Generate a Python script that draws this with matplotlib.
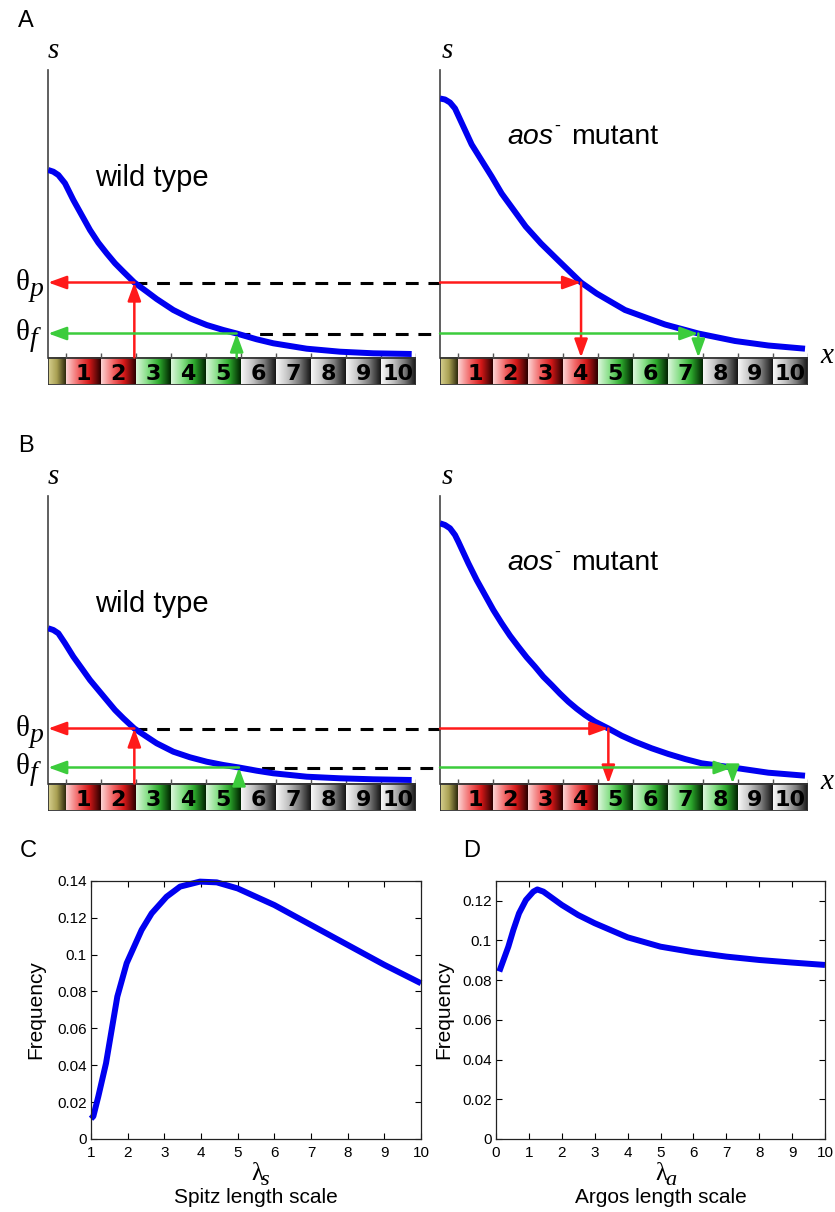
import numpy as np
import matplotlib.pyplot as plt
from matplotlib.colors import LinearSegmentedColormap
from matplotlib.patches import Rectangle

plt.rcParams["font.family"] = ["Liberation Sans", "DejaVu Sans"]

SERIF = ["Liberation Serif", "DejaVu Serif"]
W, H = 835, 1212

# --- panels A/B: x in cell units (cell k spans k-1..k), s arbitrary units ---
a_wt_x = [-0.5, -0.353, -0.21, -0.02, 0.218, 0.456, 0.694, 0.932, 1.17, 1.409, 1.647, 1.961,
          2.313, 2.599, 3.075, 3.551, 4.028, 4.504, 4.885, 5.456, 5.932, 6.885, 7.837, 8.789, 9.885]
a_wt_s = [1.875, 1.858, 1.825, 1.742, 1.575, 1.425, 1.275, 1.148, 1.042, 0.942, 0.858, 0.75,
          0.66, 0.585, 0.475, 0.392, 0.325, 0.275, 0.24, 0.182, 0.142, 0.088, 0.058, 0.042, 0.035]
a_mut_x = [-0.5, -0.357, -0.214, -0.071, 0.167, 0.405, 0.69, 0.976, 1.262, 1.595, 1.948, 2.386,
           2.881, 3.53, 3.976, 4.786, 5.929, 6.881, 7.929, 8.881, 9.929]
a_mut_s = [2.59, 2.58, 2.55, 2.49, 2.31, 2.13, 1.97, 1.81, 1.64, 1.48, 1.31, 1.14,
           0.97, 0.75, 0.64, 0.475, 0.33, 0.24, 0.165, 0.12, 0.088]
b_wt_x = [-0.5, -0.353, -0.21, -0.02, 0.218, 0.456, 0.694, 0.932, 1.17, 1.409, 1.647, 1.961,
          2.313, 2.599, 3.075, 3.551, 4.028, 4.504, 4.952, 5.456, 5.932, 6.885, 7.837, 8.789, 9.885]
b_wt_s = [1.552, 1.535, 1.502, 1.402, 1.268, 1.152, 1.035, 0.935, 0.835, 0.735, 0.652, 0.55,
          0.468, 0.402, 0.318, 0.262, 0.218, 0.185, 0.16, 0.128, 0.102, 0.068, 0.052, 0.042, 0.035]
b_mut_x = [-0.5, -0.357, -0.214, -0.071, 0.024, 0.31, 0.548, 0.786, 1.024, 1.262, 1.5, 1.738,
           1.976, 2.214, 2.452, 2.69, 2.929, 3.167, 3.405, 3.643, 3.929, 4.31, 4.69, 5.071,
           5.548, 6.024, 6.5, 6.976, 7.86, 8.881, 9.929]
b_mut_s = [2.602, 2.585, 2.552, 2.485, 2.418, 2.202, 2.035, 1.885, 1.735, 1.602, 1.478, 1.368,
           1.262, 1.168, 1.068, 0.985, 0.898, 0.818, 0.748, 0.685, 0.618, 0.55, 0.478, 0.418,
           0.352, 0.295, 0.245, 0.202, 0.16, 0.108, 0.078]

# thresholds (theta_p, theta_f) and where the curves cross them
a_theta = (0.75, 0.24)
b_theta = (0.55, 0.16)
a_wt_cross = (1.961, 4.885)
a_mut_cross = (3.53, 6.881)
b_wt_cross = (1.961, 4.952)
b_mut_cross = (4.31, 7.86)

# cell fates: r = primary (red), g = secondary (green), k = gray
a_wt_fate = ["r", "r", "g", "g", "g", "k", "k", "k", "k", "k"]
a_mut_fate = ["r", "r", "r", "r", "g", "g", "g", "k", "k", "k"]
b_wt_fate = ["r", "r", "g", "g", "g", "k", "k", "k", "k", "k"]
b_mut_fate = ["r", "r", "r", "r", "g", "g", "g", "g", "k", "k"]

# --- panel C / D: frequency distributions ---
c_x = [1.0, 1.064, 1.2, 1.41, 1.564, 1.718, 1.973, 2.38, 2.655, 3.06, 3.43, 3.97, 4.43, 5.0, 6.0, 7.0, 8.0, 9.0, 10.0]
c_y = [0.011, 0.0123, 0.0231, 0.0411, 0.0592, 0.0772, 0.0953, 0.1133, 0.1223, 0.1313, 0.1368, 0.1395,
       0.1391, 0.1358, 0.1268, 0.116, 0.1052, 0.0944, 0.0844]
d_x = [0.1, 0.375, 0.527, 0.70, 0.91, 1.135, 1.256, 1.44, 2.0, 2.5, 3.0, 4.0, 5.0, 6.0, 7.0, 8.0, 9.0, 10.0]
d_y = [0.0843, 0.0968, 0.1052, 0.1136, 0.1203, 0.1245, 0.1256, 0.1245, 0.1178, 0.1127, 0.1086, 0.1015,
       0.0968, 0.094, 0.0918, 0.0901, 0.0888, 0.0876]

BLUE = "#0000f0"
RED = "#ff1a1a"
GREEN = "#3ccc3c"
STRIP = -0.27
YTOP = 2.88

CMAPS = {
    "o": LinearSegmentedColormap.from_list("o", ["#d8d190", "#a89f52", "#2c280c"]),
    "r": LinearSegmentedColormap.from_list("r", ["#fcd4d4", "#f26a6a", "#d41818", "#2a0000"]),
    "g": LinearSegmentedColormap.from_list("g", ["#dcf6dc", "#84de84", "#2ca82c", "#002200"]),
    "k": LinearSegmentedColormap.from_list("k", ["#f8f8f8", "#c4c4c4", "#7c7c7c", "#141414"]),
}
grad = np.linspace(0, 1, 128).reshape(1, -1)

fig = plt.figure(figsize=(W / 100, H / 100), dpi=100)


def px_axes(left, top, right, bottom):
    return fig.add_axes([left / W, 1 - bottom / H, (right - left) / W, (bottom - top) / H])


def ptext(px, py, s, **kw):
    fig.text(px / W, 1 - py / H, s, **kw)


def arrow(ax, tail, tip, color):
    ax.annotate("", xy=tip, xytext=tail,
                arrowprops=dict(arrowstyle="-|>,head_length=0.55,head_width=0.2",
                                color=color, lw=1.8, shrinkA=0, shrinkB=0,
                                mutation_scale=20),
                zorder=5, annotation_clip=False)


def draw_strip(ax, fates):
    ax.imshow(grad, cmap=CMAPS["o"], extent=[-0.5, 0, STRIP, 0], aspect="auto",
              interpolation="bilinear", zorder=1)
    for k, f in enumerate(fates, start=1):
        ax.imshow(grad, cmap=CMAPS[f], extent=[k - 1, k, STRIP, 0], aspect="auto",
                  interpolation="bilinear", zorder=1)
        ax.text(k - 0.5, STRIP + 0.045, str(k), ha="center", va="baseline",
                fontsize=16, fontweight="bold", family="DejaVu Sans", zorder=2)
    ax.add_patch(Rectangle((-0.5, STRIP), 10.5, -STRIP, fill=False, ec="#333333",
                           lw=1.3, zorder=3))
    ax.vlines(range(0, 11), 0, 0.045, color="#555555", lw=1, zorder=3)


def profile_axes(ax, xs, ss, theta, cross, fates, wild):
    draw_strip(ax, fates)
    ax.plot(xs, ss, color=BLUE, lw=4.3, solid_capstyle="butt", solid_joinstyle="round",
            zorder=4)
    for th, xc, col in [(theta[0], cross[0], RED), (theta[1], cross[1], GREEN)]:
        if wild:
            arrow(ax, (xc, 0), (xc, th), col)
            arrow(ax, (xc, th), (-0.5, th), col)
        else:
            arrow(ax, (-0.5, th), (xc, th), col)
            arrow(ax, (xc, th), (xc, 0), col)
    ax.set_xlim(-0.5, 10)
    ax.set_ylim(STRIP, YTOP)
    for sp in ["top", "right", "bottom"]:
        ax.spines[sp].set_visible(False)
    ax.spines["left"].set_bounds(0, YTOP)
    ax.spines["left"].set_color("#444444")
    ax.spines["left"].set_linewidth(1.2)
    ax.set_xticks([])
    ax.set_yticks([])
    ax.patch.set_alpha(0)


def theta_labels(ax, theta):
    for th, sub in [(theta[0], "p"), (theta[1], "f")]:
        ax.annotate("\u03b8", xy=(-0.5, th), xytext=(-19, -7), textcoords="offset pixels",
                    ha="right", va="baseline", fontsize=21, family=SERIF,
                    annotation_clip=False)
        ax.annotate(sub, xy=(-0.5, th), xytext=(-19, -13), textcoords="offset pixels",
                    ha="left", va="baseline", fontsize=20, family=SERIF, style="italic",
                    annotation_clip=False)


def dashed(ax_l, ax_r, theta, cross):
    x_end = ax_l.transData.inverted().transform(ax_r.transAxes.transform((0, 0)))[0]
    for th, xc in zip(theta, cross):
        ax_l.plot([xc, x_end], [th, th], color="black", lw=2.2, dashes=(4.2, 3.2),
                  clip_on=False, zorder=2)


rows = [
    (69.5, 384.5, a_wt_x, a_wt_s, a_mut_x, a_mut_s, a_theta, a_wt_cross, a_mut_cross,
     a_wt_fate, a_mut_fate),
    (495.5, 810.5, b_wt_x, b_wt_s, b_mut_x, b_mut_s, b_theta, b_wt_cross, b_mut_cross,
     b_wt_fate, b_mut_fate),
]
for top, bot, wx, ws, mx, ms, theta, wc, mc, wf, mf in rows:
    ax_l = px_axes(48.2, top, 415.7, bot)
    ax_r = px_axes(440, top, 807.5, bot)
    profile_axes(ax_l, wx, ws, theta, wc, wf, True)
    profile_axes(ax_r, mx, ms, theta, mc, mf, False)
    dashed(ax_l, ax_r, theta, wc)
    theta_labels(ax_l, theta)
    ptext(95, top + 116.5, "wild type", fontsize=21, va="baseline")
    ptext(507.7, top + 74, "aos", fontsize=20.5, style="italic", va="baseline")
    ptext(554, top + 61, "-", fontsize=13, va="baseline")
    ptext(571.5, top + 74, "mutant", fontsize=20.5, va="baseline")
    ptext(48, top - 11.5, "s", fontsize=21, family=SERIF, style="italic", va="baseline")
    ptext(442, top - 11.5, "s", fontsize=21, family=SERIF, style="italic", va="baseline")
    ptext(820, bot - 21.5, "x", fontsize=21, family=SERIF, style="italic", va="baseline")

ptext(18, 27, "A", fontsize=17, va="baseline")
ptext(18, 452, "B", fontsize=17, va="baseline")
ptext(20, 857, "C", fontsize=17, va="baseline")
ptext(463, 857, "D", fontsize=17, va="baseline")

# --- C and D ---
ax_c = px_axes(91, 880.7, 421, 1139)
ax_d = px_axes(496, 880.7, 825, 1139)
panels = [
    (ax_c, c_x, c_y, (1, 10), 0.14, [0, 0.02, 0.04, 0.06, 0.08, 0.1, 0.12, 0.14],
     "s", "Spitz length scale", -0.14),
    (ax_d, d_x, d_y, (0, 10), 0.13, [0, 0.02, 0.04, 0.06, 0.08, 0.1, 0.12],
     "a", "Argos length scale", -0.13),
]
for ax, xs, ys, xl, ytop, yt, sub, name, lab_x in panels:
    ax.plot(xs, ys, color=BLUE, lw=4.3, solid_capstyle="butt", solid_joinstyle="round",
            clip_on=False)
    ax.set_xlim(*xl)
    ax.set_ylim(0, ytop)
    ax.set_xticks(range(xl[0], 11))
    ax.set_yticks(yt)
    ax.set_yticklabels([("%g" % v) for v in yt])
    ax.tick_params(direction="in", top=True, right=True, length=4, width=0.8,
                   labelsize=11)
    ax.tick_params(axis="x", pad=5)
    ax.tick_params(axis="y", pad=3)
    for sp in ax.spines.values():
        sp.set_linewidth(0.9)
        sp.set_color("#222222")
    ax.set_ylabel("Frequency", fontsize=15)
    ax.yaxis.set_label_coords(lab_x, 0.5)
    ax.annotate("\u03bb", xy=(0.5, 0), xycoords="axes fraction", xytext=(1, -41),
                textcoords="offset pixels", ha="center", va="baseline", fontsize=18,
                family=SERIF, annotation_clip=False)
    ax.annotate(sub, xy=(0.5, 0), xycoords="axes fraction", xytext=(5, -46),
                textcoords="offset pixels", ha="left", va="baseline", fontsize=16,
                family=SERIF, style="italic", annotation_clip=False)
    ax.annotate(name, xy=(0.5, 0), xycoords="axes fraction", xytext=(0, -64),
                textcoords="offset pixels", ha="center", va="baseline", fontsize=15,
                annotation_clip=False)

fig.savefig("out.png", dpi=100)
